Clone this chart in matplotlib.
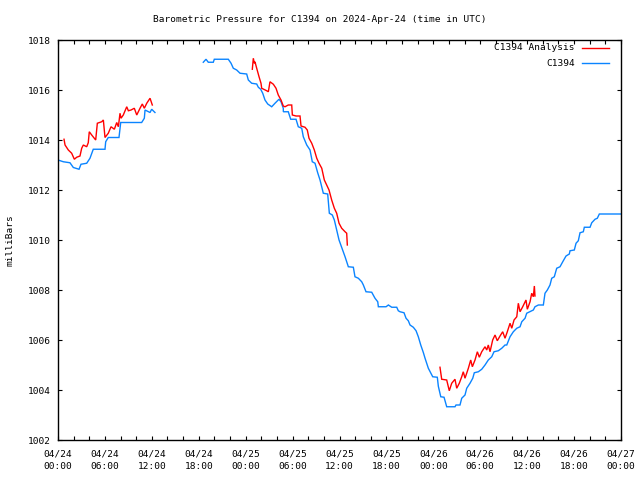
import numpy as np
import matplotlib
matplotlib.use("Agg")
import matplotlib.pyplot as plt
from matplotlib.lines import Line2D

# ---- data (hours since 2024-04-24 00:00 UTC, pressure in mb) ----
obs1_h = [0.0, 0.68, 1.53, 1.96, 2.69, 2.94, 3.67, 4.09, 4.51, 6.01, 6.10, 6.43, 7.80, 8.02,
          10.70, 11.04, 11.13, 11.77, 11.98, 12.40]
obs1_p = [1013.2, 1013.13, 1013.09, 1012.9, 1012.83, 1013.03, 1013.07, 1013.27, 1013.63, 1013.63,
          1013.93, 1014.1, 1014.1, 1014.7, 1014.7, 1014.87, 1015.2, 1015.1, 1015.23, 1015.1]

obs2_h = [18.58, 18.93, 19.22, 19.86, 19.99, 21.78, 22.13, 22.42, 22.85, 23.28, 24.13, 24.34,
          24.77, 25.41, 25.62, 25.92, 26.18, 26.47, 26.82, 27.33, 27.75, 28.26, 28.52, 28.81,
          28.82, 29.45, 29.76, 30.44, 30.73, 31.17, 31.37, 31.81, 32.23, 32.52, 32.87, 33.21,
          33.51, 33.93, 34.49, 34.70, 35.08, 35.34, 35.64, 35.94, 36.36, 36.71, 37.13, 37.77,
          37.98, 38.41, 38.84, 39.05, 39.39, 40.12, 40.54, 40.89, 40.97, 41.95, 42.25, 42.68,
          43.32, 43.52, 43.74, 44.25, 44.51, 44.80, 45.02, 45.44, 45.79, 46.08, 46.39, 46.72,
          46.94, 47.36, 47.92, 48.51, 48.64, 48.95, 49.37, 49.71, 50.77, 50.90, 51.41, 51.63,
          52.05, 52.27, 52.69, 53.04, 53.24, 53.76, 54.19, 54.61, 55.03, 55.47, 55.76, 56.31,
          56.75, 57.17, 57.39, 57.81, 58.23, 58.67, 59.09, 59.31, 59.73, 59.94, 60.79, 61.00,
          61.43, 62.07, 62.28, 62.58, 62.92, 63.14, 63.47, 63.78, 64.20, 64.55, 64.97, 65.39,
          65.48, 66.03, 66.25, 66.54, 66.76, 67.18, 67.31, 68.04, 68.26, 68.68, 68.97, 69.23,
          72.0]
obs2_p = [1017.11, 1017.23, 1017.11, 1017.11, 1017.23, 1017.23, 1017.07, 1016.87, 1016.8, 1016.67,
          1016.64, 1016.4, 1016.27, 1016.24, 1016.11, 1016.03, 1015.87, 1015.6, 1015.44, 1015.33,
          1015.47, 1015.63, 1015.53, 1015.27, 1015.13, 1015.13, 1014.83, 1014.83, 1014.53, 1014.47,
          1014.13, 1013.8, 1013.6, 1013.13, 1013.07, 1012.69, 1012.4, 1011.87, 1011.84, 1011.07,
          1011.0, 1010.8, 1010.4, 1010.0, 1009.63, 1009.33, 1008.93, 1008.91, 1008.53, 1008.47,
          1008.33, 1008.2, 1007.93, 1007.91, 1007.67, 1007.53, 1007.33, 1007.33, 1007.4, 1007.31,
          1007.31, 1007.17, 1007.13, 1007.09, 1006.87, 1006.77, 1006.6, 1006.51, 1006.37, 1006.13,
          1005.8, 1005.5, 1005.27, 1004.87, 1004.53, 1004.51, 1004.15, 1003.73, 1003.71, 1003.33,
          1003.33, 1003.4, 1003.4, 1003.67, 1003.8, 1004.07, 1004.27, 1004.47, 1004.69, 1004.73,
          1004.83, 1005.0, 1005.2, 1005.33, 1005.53, 1005.57, 1005.67, 1005.8, 1005.8, 1006.13,
          1006.33, 1006.47, 1006.53, 1006.73, 1006.87, 1007.07, 1007.2, 1007.33, 1007.4, 1007.4,
          1007.87, 1008.0, 1008.2, 1008.47, 1008.53, 1008.87, 1008.93, 1009.13, 1009.36, 1009.44,
          1009.57, 1009.6, 1009.87, 1009.97, 1010.29, 1010.33, 1010.51, 1010.51, 1010.69, 1010.83,
          1010.87, 1011.04, 1011.04]

ana1_h = [0.77, 0.90, 1.32, 1.75, 2.09, 2.39, 2.81, 3.03, 3.24, 3.67, 3.87, 4.00, 4.31, 4.82,
          5.03, 5.59, 5.80, 6.01, 6.43, 6.78, 7.21, 7.51, 7.72, 7.93, 8.06, 8.35, 8.79, 9.00,
          9.34, 9.76, 10.07, 10.49, 10.78, 11.04, 11.35, 11.77, 12.06]
ana1_p = [1014.03, 1013.8, 1013.6, 1013.47, 1013.23, 1013.31, 1013.36, 1013.67, 1013.8, 1013.73,
          1013.89, 1014.33, 1014.2, 1014.0, 1014.67, 1014.73, 1014.8, 1014.1, 1014.27, 1014.53,
          1014.43, 1014.7, 1014.53, 1015.07, 1014.87, 1015.0, 1015.33, 1015.17, 1015.2, 1015.27,
          1015.0, 1015.27, 1015.44, 1015.27, 1015.47, 1015.67, 1015.4]

ana2_h = [24.85, 24.98, 25.11, 25.19, 25.41, 25.71, 25.96, 26.05, 26.69, 26.90, 27.11, 27.54,
          27.88, 28.17, 28.52, 28.81, 29.03, 29.45, 29.89, 29.97, 30.44, 30.95, 31.08, 31.59,
          31.88, 32.10, 32.45, 32.78, 33.09, 33.38, 33.73, 34.06, 34.36, 34.66, 35.00, 35.34,
          35.64, 35.94, 36.28, 36.71, 36.92, 37.00]
ana2_p = [1016.83, 1017.27, 1017.07, 1017.13, 1016.87, 1016.53, 1016.27, 1016.07, 1015.97, 1015.93,
          1016.33, 1016.23, 1016.07, 1015.8, 1015.6, 1015.36, 1015.33, 1015.4, 1015.4, 1015.0,
          1014.96, 1014.96, 1014.56, 1014.51, 1014.4, 1014.07, 1013.87, 1013.6, 1013.27, 1013.07,
          1012.87, 1012.4, 1012.2, 1012.0, 1011.6, 1011.27, 1011.07, 1010.67, 1010.47, 1010.33,
          1010.27, 1009.8]

ana3_h = [48.85, 49.07, 49.71, 50.04, 50.35, 50.77, 50.99, 51.32, 51.63, 51.83, 52.05, 52.48,
          52.78, 52.99, 53.33, 53.63, 53.88, 54.19, 54.61, 54.83, 55.03, 55.25, 55.59, 55.89,
          56.18, 56.53, 56.87, 57.17, 57.46, 57.81, 58.03, 58.32, 58.67, 58.87, 59.09, 59.43,
          59.85, 60.02, 60.37, 60.58, 60.79, 60.92, 61.00]
ana3_p = [1004.91, 1004.43, 1004.4, 1003.97, 1004.27, 1004.43, 1004.07, 1004.27, 1004.53, 1004.73,
          1004.47, 1004.87, 1005.2, 1004.93, 1005.2, 1005.53, 1005.31, 1005.53, 1005.73, 1005.6,
          1005.8, 1005.53, 1006.0, 1006.2, 1005.97, 1006.16, 1006.33, 1006.07, 1006.33, 1006.67,
          1006.47, 1006.8, 1006.93, 1007.47, 1007.13, 1007.33, 1007.6, 1007.23, 1007.53, 1007.87,
          1007.73, 1008.16, 1007.76]

xtick_hours = [0, 6, 12, 18, 24, 30, 36, 42, 48, 54, 60, 66, 72]
xtick_labels = ["04/24\n00:00", "04/24\n06:00", "04/24\n12:00", "04/24\n18:00",
                "04/25\n00:00", "04/25\n06:00", "04/25\n12:00", "04/25\n18:00",
                "04/26\n00:00", "04/26\n06:00", "04/26\n12:00", "04/26\n18:00",
                "04/27\n00:00"]
ytick_vals = [1002, 1004, 1006, 1008, 1010, 1012, 1014, 1016, 1018]

RED = "#ff0000"
BLUE = "#0a84ff"
FONT = "DejaVu Sans Mono"
FS = 6.8

plt.rcParams['font.family'] = FONT
fig = plt.figure(figsize=(6.4, 4.8), dpi=100)
ax = fig.add_axes([58/640, 40/480, (621-58)/640, (440-40)/480])

for h, p in [(obs1_h, obs1_p), (obs2_h, obs2_p)]:
    ax.plot(h, p, color=BLUE, lw=1.0, solid_joinstyle='miter')
for h, p in [(ana1_h, ana1_p), (ana2_h, ana2_p), (ana3_h, ana3_p)]:
    ax.plot(h, p, color=RED, lw=1.0, solid_joinstyle='miter')

ax.set_xlim(0, 72)
ax.set_ylim(1002, 1018)
ax.set_xticks(xtick_hours)
ax.set_xticklabels(xtick_labels, fontsize=FS, linespacing=1.45)
ax.set_xticks(np.arange(0, 73, 2), minor=True)
ax.set_yticks(ytick_vals)
ax.set_yticklabels([str(v) for v in ytick_vals], fontsize=FS)
ax.tick_params(axis='both', which='both', direction='in', top=True, right=True,
               width=0.8, color='black')
ax.tick_params(axis='x', which='major', length=3.2, pad=7)
ax.tick_params(axis='x', which='minor', length=3.2)
ax.tick_params(axis='y', which='major', length=3.2, pad=5)
for s in ax.spines.values():
    s.set_linewidth(1.0)
    s.set_color('black')

fig.text(0.5, 1 - 19/480, "Barometric Pressure for C1394 on 2024-Apr-24 (time in UTC)",
         ha='center', va='center', fontsize=FS)
fig.text(10/640, 1 - 240/480, "milliBars", rotation=90, ha='center', va='center', fontsize=FS)

# legend
leg_items = [("C1394 Analysis", RED, 48), ("C1394", BLUE, 63)]
for label, col, ypx in leg_items:
    yf = 1 - ypx/480
    fig.text(575/640, yf, label, ha='right', va='center', fontsize=FS)
    fig.add_artist(Line2D([582/640, 609/640], [yf, yf], color=col, lw=1.0,
                          transform=fig.transFigure))

fig.savefig("out.png", dpi=100)
